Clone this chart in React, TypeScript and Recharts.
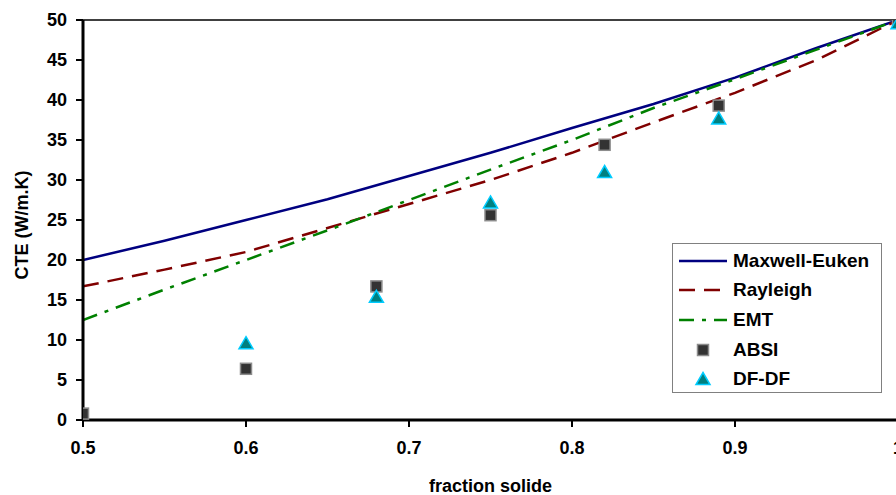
import {
  ComposedChart,
  Line,
  Scatter,
  XAxis,
  YAxis,
  Legend,
  ReferenceLine,
} from "recharts";

const FONT = '"Liberation Sans", Arial, sans-serif';

// model curves, sampled every 0.05 of solid fraction
const fraction = [0.5, 0.55, 0.6, 0.65, 0.7, 0.75, 0.8, 0.85, 0.9, 0.95, 1.0];
const maxwellEuken = [20.0, 22.4, 25.0, 27.6, 30.5, 33.4, 36.5, 39.5, 42.8, 46.5, 50.0];
const rayleigh = [16.7, 18.8, 21.0, 24.0, 27.0, 30.0, 33.4, 37.2, 40.9, 45.0, 50.0];
const emt = [12.5, 16.3, 20.0, 23.7, 27.5, 31.3, 35.0, 39.0, 42.6, 46.3, 50.0];

// measured points
const absiX = [0.5, 0.6, 0.68, 0.75, 0.82, 0.89, 1.0];
const absiY = [0.8, 6.4, 16.7, 25.6, 34.4, 39.3, 50.0];
const dfdfX = [0.6, 0.68, 0.75, 0.82, 0.89, 1.0];
const dfdfY = [9.6, 15.4, 27.2, 31.0, 37.7, 49.6];

const xTicks = [0.5, 0.6, 0.7, 0.8, 0.9, 1];
const yTicks = [0, 5, 10, 15, 20, 25, 30, 35, 40, 45, 50];

const toPoints = (xs: number[], ys: number[]) =>
  xs.map((x, i) => ({ x, y: ys[i] }));

const Square = ({ cx, cy }: any) => (
  <rect
    x={cx - 5.5}
    y={cy - 5.5}
    width={11}
    height={11}
    fill="#333333"
    stroke="#8c8c8c"
    strokeWidth={1.5}
  />
);

const Triangle = ({ cx, cy }: any) => (
  <polygon
    points={`${cx},${cy - 6.5} ${cx + 7},${cy + 5.5} ${cx - 7},${cy + 5.5}`}
    fill="#008080"
    stroke="#00ccff"
    strokeWidth={1.5}
  />
);

const series = [
  { name: "Maxwell-Euken", kind: "line", color: "#000080", dash: undefined },
  { name: "Rayleigh", kind: "line", color: "#800000", dash: "16 9" },
  { name: "EMT", kind: "line", color: "#008000", dash: "15 8 4 8" },
  { name: "ABSI", kind: "square", color: "#333333", dash: undefined },
  { name: "DF-DF", kind: "triangle", color: "#008080", dash: undefined },
];

const ChartLegend = () => (
  <div
    style={{
      border: "1px solid #808080",
      background: "#fff",
      padding: "2px 6px",
      boxSizing: "border-box",
      width: 210,
      height: 150,
      fontFamily: FONT,
      fontWeight: "bold",
      fontSize: 19,
      color: "#000",
      textAlign: "left",
    }}
  >
    {series.map((s) => (
      <div
        key={s.name}
        style={{ display: "flex", alignItems: "center", height: 29.6 }}
      >
        <svg width={54} height={20}>
          {s.kind === "line" && (
            <line
              x1={0}
              y1={10}
              x2={48}
              y2={10}
              stroke={s.color}
              strokeWidth={2.5}
              strokeDasharray={s.dash}
            />
          )}
          {s.kind === "square" && <Square cx={24} cy={10} />}
          {s.kind === "triangle" && <Triangle cx={24} cy={10} />}
        </svg>
        <span>{s.name}</span>
      </div>
    ))}
  </div>
);

const XTitle = ({ viewBox }: any) => (
  <text
    x={viewBox.x + viewBox.width / 2}
    y={viewBox.y + 72}
    textAnchor="middle"
    fontFamily={FONT}
    fontWeight="bold"
    fontSize={18}
    fill="#000"
  >
    fraction solide
  </text>
);

const YTitle = ({ viewBox }: any) => {
  const cx = 22;
  const cy = viewBox.y + viewBox.height / 2 + 5;
  return (
    <text
      x={cx}
      y={cy}
      transform={`rotate(-90 ${cx} ${cy})`}
      textAnchor="middle"
      dominantBaseline="central"
      fontFamily={FONT}
      fontWeight="bold"
      fontSize={18}
      fill="#000"
    >
      CTE (W/m.K)
    </text>
  );
};

const tickStyle = {
  fill: "#000",
  fontSize: 18,
  fontWeight: "bold",
  fontFamily: FONT,
};

export default function App() {
  return (
    <div
      style={{
        position: "absolute",
        left: 0,
        top: 0,
        width: 896,
        height: 495,
        overflow: "hidden",
        background: "#fff",
      }}
    >
      <ComposedChart
        width={910}
        height={495}
        margin={{ top: 20, right: 12, bottom: 0, left: 0 }}
      >
        <XAxis
          type="number"
          dataKey="x"
          domain={[0.5, 1]}
          ticks={xTicks}
          interval={0}
          allowDataOverflow
          height={75}
          tickSize={7}
          tickMargin={14}
          tick={tickStyle}
          axisLine={{ stroke: "#000", strokeWidth: 3 }}
          tickLine={{ stroke: "#000", strokeWidth: 2 }}
          label={<XTitle />}
        />
        <YAxis
          type="number"
          dataKey="y"
          domain={[0, 50]}
          ticks={yTicks}
          interval={0}
          allowDataOverflow
          width={83}
          tickSize={7}
          tickMargin={9}
          tick={tickStyle}
          axisLine={{ stroke: "#000", strokeWidth: 3 }}
          tickLine={{ stroke: "#000", strokeWidth: 2 }}
          label={<YTitle />}
        />
        <ReferenceLine y={50} stroke="#404040" strokeWidth={2} />
        <ReferenceLine x={1} stroke="#404040" strokeWidth={2} />
        <Line
          data={toPoints(fraction, maxwellEuken)}
          dataKey="y"
          name="Maxwell-Euken"
          type="linear"
          stroke="#000080"
          strokeWidth={2.5}
          dot={false}
          isAnimationActive={false}
        />
        <Line
          data={toPoints(fraction, rayleigh)}
          dataKey="y"
          name="Rayleigh"
          type="linear"
          stroke="#800000"
          strokeWidth={2.5}
          strokeDasharray="16 9"
          dot={false}
          isAnimationActive={false}
        />
        <Line
          data={toPoints(fraction, emt)}
          dataKey="y"
          name="EMT"
          type="linear"
          stroke="#008000"
          strokeWidth={2.5}
          strokeDasharray="15 8 4 8"
          dot={false}
          isAnimationActive={false}
        />
        <Scatter
          data={toPoints(absiX, absiY)}
          dataKey="y"
          name="ABSI"
          shape={<Square />}
          isAnimationActive={false}
        />
        <Scatter
          data={toPoints(dfdfX, dfdfY)}
          dataKey="y"
          name="DF-DF"
          shape={<Triangle />}
          isAnimationActive={false}
        />
        <Legend
          layout="horizontal"
          verticalAlign="middle"
          align="center"
          content={<ChartLegend />}
          wrapperStyle={{
            position: "absolute",
            left: 672,
            top: 243,
            width: 210,
            height: 150,
          }}
        />
      </ComposedChart>
    </div>
  );
}
